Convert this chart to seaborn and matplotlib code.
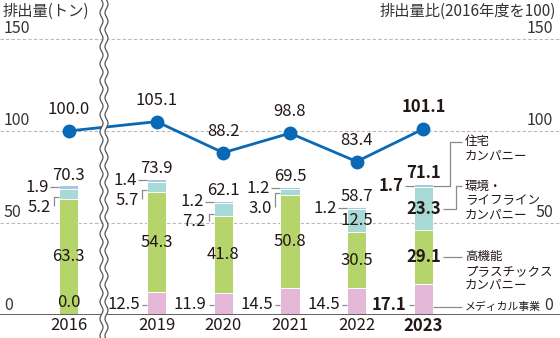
import numpy as np
import pandas as pd
import matplotlib
matplotlib.use("Agg")
import matplotlib.pyplot as plt
import seaborn as sns

# ---------------- data ----------------
years = ["2016", "2019", "2020", "2021", "2022", "2023"]
medical = [0.0, 12.5, 11.9, 14.5, 14.5, 17.1]
plastics = [63.3, 54.3, 41.8, 50.8, 30.5, 29.1]
environment = [5.2, 5.7, 7.2, 3.0, 12.5, 23.3]
housing = [1.9, 1.4, 1.2, 1.2, 1.2, 1.7]
totals = [70.3, 73.9, 62.1, 69.5, 58.7, 71.1]
ratio = [100.0, 105.1, 88.2, 98.8, 83.4, 101.1]
y_ticks = [0, 50, 100, 150]
left_title = "排出量(トン)"
right_title = "排出量比(2016年度を100)"
legend_housing = ["住宅", "カンパニー"]
legend_env = ["環境・", "ライフライン", "カンパニー"]
legend_plastics = ["高機能", "プラスチックス", "カンパニー"]
legend_medical = ["メディカル事業"]

# ---------------- style ----------------
sns.set_theme(style="white")
plt.rcParams["font.family"] = ["Noto Sans CJK JP", "DejaVu Sans"]

C_MED = "#e4b8d6"
C_PLA = "#b6d46c"
C_ENV = "#a7d9d7"
C_HOU = "#a9c4e6"
C_LINE = "#0a69b5"
C_TXT = "#231815"
C_TICK = "#333333"
C_LEAD = "#8a8a8a"
C_GRID = "#b8b8b8"

# layout (x positions: axis break between 2016 and 2019)
pos = [0.0, 1.32, 2.32, 3.32, 4.32, 5.32]
XPX = 66.7          # px per x unit
X0 = -1.027         # x value at left edge
YPX = 1.84          # px per y unit
BASE_PX = 315.0

def xpx(p):
    return X0 + p / XPX

def ypx(p):
    return (BASE_PX - p) / YPX

def dx(p):
    return p / XPX

def dy(p):
    return p / YPX

W = 0.29

fig = plt.figure(figsize=(5.6, 3.38), dpi=100)
ax = fig.add_axes([0, 23 / 338, 1, 295 / 338])
ax.set_xlim(X0, X0 + 560 / XPX)
ax.set_ylim(0, 295 / YPX)

# grid lines
for v in y_ticks[1:]:
    ax.axhline(v, color=C_GRID, lw=0.8, ls=(0, (3, 2)), zorder=0)
ax.axhline(0, color="#555555", lw=1.3, zorder=4)

# stacked bars (overlay cumulative heights)
cum1 = np.array(medical)
cum2 = cum1 + np.array(plastics)
cum3 = cum2 + np.array(environment)
cum4 = cum3 + np.array(housing)
for vals, col in [(cum4, C_HOU), (cum3, C_ENV), (cum2, C_PLA), (cum1, C_MED)]:
    sns.barplot(x=pos, y=vals, native_scale=True, width=W, color=col,
                saturation=1, edgecolor="white", linewidth=0.7,
                errorbar=None, ax=ax, zorder=2)

ax.set_xlim(X0, X0 + 560 / XPX)
ax.set_ylim(0, 295 / YPX)
ax.set_xticks([])
ax.set_yticks([])
ax.set_xlabel("")
ax.set_ylabel("")
for s in ax.spines.values():
    s.set_visible(False)

FS = 12
# tick labels
for v in y_ticks:
    ax.text(xpx(4), v + dy(1.5), str(v), ha="left", va="bottom",
            fontsize=11.5, color=C_TICK)
    ax.text(xpx(553), v + dy(1.5), str(v), ha="right", va="bottom",
            fontsize=11.5, color=C_TICK)
ax.text(xpx(3), ypx(11), left_title, ha="left", va="center",
        fontsize=11, color=C_TICK)
ax.text(xpx(556), ypx(11), right_title, ha="right", va="center",
        fontsize=11, color=C_TICK)

# year labels
for i, (x, yr) in enumerate(zip(pos, years)):
    ax.text(x, ypx(326), yr, ha="center", va="center", fontsize=FS,
            color=C_TXT, fontweight="bold" if i == 5 else "normal")

def lead(xs, ys):
    ax.plot(xs, ys, color=C_LEAD, lw=0.9, zorder=3, solid_capstyle="butt")

for i, x in enumerate(pos):
    fw = "bold" if i == 5 else "normal"
    bl = x - W / 2
    # total
    ax.text(x, totals[i] + dy(2), f"{totals[i]:.1f}", ha="center", va="bottom",
            fontsize=FS, color=C_TXT, fontweight=fw)
    # plastics (inside)
    ax.text(x, cum1[i] + plastics[i] / 2, f"{plastics[i]:.1f}", ha="center",
            va="center", fontsize=FS, color=C_TXT, fontweight=fw, zorder=5)
    # medical
    if i == 0:
        ax.text(x, 7, f"{medical[i]:.1f}", ha="center", va="center",
                fontsize=FS, color=C_TXT, zorder=5)
    else:
        my = 5.5
        ax.text(bl - dx(7), my, f"{medical[i]:.1f}", ha="right", va="center",
                fontsize=FS, color=C_TXT, fontweight=fw)
        lead([bl - dx(5), bl], [my, my])
    # housing (left with leader)
    hy = cum3[i] + housing[i] / 2
    ax.text(bl - dx(10), hy, f"{housing[i]:.1f}", ha="right", va="center",
            fontsize=FS, color=C_TXT, fontweight=fw)
    lead([bl - dx(9), bl], [hy, hy])
    # environment
    if environment[i] >= 10:
        ax.text(x, cum2[i] + environment[i] / 2, f"{environment[i]:.1f}",
                ha="center", va="center", fontsize=FS, color=C_TXT,
                fontweight=fw, zorder=5)
    else:
        ly = hy - dy(20)
        cy = cum2[i] + min(1.0, environment[i] / 2)
        ax.text(bl - dx(8), ly, f"{environment[i]:.1f}", ha="right",
                va="center", fontsize=FS, color=C_TXT, fontweight=fw)
        lead([bl - dx(5), bl - dx(5), bl], [ly + dy(1), cy, cy])

# legend labels on the right (attached to 2023 bar)
i = 5
br = pos[i] + W / 2
tx = xpx(465)
lsp = dy(14.5)
hy = cum3[i] + housing[i] / 2
top_h = ypx(142)
lead([br, xpx(450), xpx(450), xpx(462)], [hy, hy, top_h, top_h])
for k, t in enumerate(legend_housing):
    ax.text(tx, top_h - k * lsp, t, ha="left", va="center", fontsize=9,
            color=C_TXT)
ey = cum2[i] + environment[i] / 2
top_e = ypx(186)
lead([xpx(443), xpx(456), xpx(456), xpx(462)], [ey, ey, top_e, top_e])
for k, t in enumerate(legend_env):
    ax.text(tx, top_e - k * lsp, t, ha="left", va="center", fontsize=9,
            color=C_TXT)
py_ = cum1[i] + plastics[i] / 2
lead([xpx(443), xpx(462)], [py_, py_])
for k, t in enumerate(legend_plastics):
    ax.text(tx, py_ - k * lsp, t, ha="left", va="center", fontsize=9,
            color=C_TXT)
my = ypx(306.5)
lead([br, xpx(462)], [my, my])
ax.text(tx, my, legend_medical[0], ha="left", va="center", fontsize=7.8,
        color=C_TXT)

# ratio line on secondary axis (same scale)
ax2 = ax.twinx()
ax2.set_ylim(ax.get_ylim())
ax2.set_xlim(ax.get_xlim())
df_line = pd.DataFrame({"x": pos, "ratio": ratio})
sns.lineplot(data=df_line, x="x", y="ratio", ax=ax2, color=C_LINE, lw=2,
             marker="o", markersize=10, markeredgewidth=0, zorder=5)
ax2.set_xlim(ax.get_xlim())
ax2.set_ylim(ax.get_ylim())
ax2.set_yticks([])
ax2.set_xticks([])
ax2.set_xlabel("")
ax2.set_ylabel("")
for s in ax2.spines.values():
    s.set_visible(False)
for k, (x, r) in enumerate(zip(pos, ratio)):
    ax2.text(x, r + dy(13), f"{r:.1f}", ha="center", va="bottom",
             fontsize=FS, color=C_TXT,
             fontweight="bold" if k == 5 else "normal")

# axis break (wavy double line)
yy_px = np.linspace(-5, 345, 400)
wave = 1.5 * np.sin(2 * np.pi * yy_px / 17.0)
yy = ypx(yy_px)
xl = xpx(101.5 + wave)
xr = xpx(106.5 + wave)
ax2.fill_betweenx(yy, xl, xr, color="white", zorder=10, clip_on=False,
                  lw=0)
ax2.plot(xl, yy, color="#555555", lw=0.9, zorder=11, clip_on=False)
ax2.plot(xr, yy, color="#555555", lw=0.9, zorder=11, clip_on=False)

fig.savefig("out.png", dpi=100)
